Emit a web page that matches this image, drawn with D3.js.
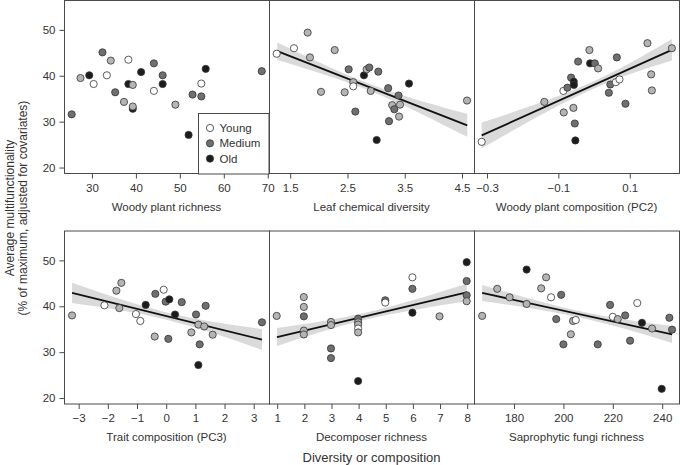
<!DOCTYPE html>
<html><head><meta charset="utf-8">
<script src="https://cdn.jsdelivr.net/npm/d3@7"></script>
<style>
body{margin:0;background:#fff;}
text{font-family:"Liberation Sans",Arial,sans-serif;fill:#333;}
</style></head>
<body><svg id="c" width="680" height="465"></svg>
<script>
// ---------- data ----------
// class codes: W = young (white), L = light grey, M = medium, O = old (black)
const legendLabels = ["Young", "Medium", "Old"];
const yTicks = [20, 30, 40, 50];

const woodyRichX = [25.5,27.5,29.5,30.5,32.5,33.5,34.4,35.4,37.4,38.4,38.4,39.4,39.4,39.4,41.3,44.2,44.2,46.2,46.2,49.1,52.1,53.0,55.0,55.0,56.0,68.75];
const woodyRichY = [31.6,39.5,40.1,38.2,45.1,40.1,43.3,36.4,34.3,43.5,38.2,38.0,32.8,33.3,40.8,42.7,36.7,40.1,38.2,33.7,27.1,35.9,38.3,35.5,41.5,41.0];
const woodyRichC = ["M","L","O","W","M","W","L","M","L","W","O","L","O","L","O","M","W","M","O","L","O","M","W","M","O","M"];

const leafChemX = [1.273,1.575,1.814,1.854,2.047,2.286,2.46,2.53,2.61,2.61,2.646,2.797,2.844,2.89,2.914,3.019,3.047,3.22,3.234,3.29,3.327,3.40,3.426,3.41,3.583,4.596];
const leafChemY = [44.8,46.0,49.4,44.0,36.5,45.6,36.4,41.4,38.6,37.7,32.2,40.1,41.4,41.8,36.7,26.0,40.9,37.3,30.1,33.6,32.7,35.7,33.7,31.1,38.3,34.6];
const leafChemC = ["W","W","L","L","L","L","L","M","L","W","M","O","L","M","L","O","M","M","M","L","M","M","L","L","O","L"];

const woodyCompX = [-0.3135,-0.138,-0.0846,-0.0835,-0.0733,-0.063,-0.0555,-0.055,-0.0565,-0.0526,-0.051,-0.0433,-0.0116,-0.0097,0.0035,0.0128,0.0428,0.047,0.0624,0.0726,0.0652,0.0894,0.151,0.1614,0.1634,0.2195];
const woodyCompY = [25.6,34.3,36.7,32.0,37.4,39.6,38.7,38.0,33.0,29.6,25.9,43.1,45.6,42.7,42.7,41.6,36.3,38.1,38.6,39.2,44.0,33.9,47.1,40.3,36.8,46.0];
const woodyCompC = ["W","L","W","L","M","M","O","O","L","M","O","M","L","O","M","L","M","M","W","W","M","M","L","L","L","L"];

const traitX = [-3.21,-2.10,-1.69,-1.52,-1.59,-1.02,-0.87,-0.686,-0.377,-0.356,-0.069,0.0,0.124,0.09,0.32,0.55,0.88,1.04,1.12,1.165,1.12,1.32,1.37,1.61,3.30];
const traitY = [38.0,40.2,43.4,45.1,39.6,38.3,36.8,40.3,33.4,42.7,43.6,41.0,41.5,32.9,38.2,40.9,34.3,38.2,36.0,31.7,27.2,35.6,40.1,33.8,36.5];
const traitC = ["L","W","L","L","L","W","W","O","L","M","W","M","O","M","O","M","L","M","L","M","O","L","M","L","M"];

const decompX = [1,2,2,2,2,2,3,3,3,3,4,4,4,4,4,4,5,5,6,6,6,7,8,8,8,8];
const decompY = [37.9,42.0,39.85,37.8,34.7,33.85,36.6,35.9,30.8,28.7,37.3,36.5,36.0,35.15,34.3,23.7,41.3,40.8,46.3,43.8,38.6,37.8,49.6,45.5,42.4,41.1];
const decompC = ["L","L","L","M","L","L","L","L","M","M","M","L","L","W","L","O","M","W","W","M","O","L","O","M","M","L"];

const fungiX = [167.3,173.4,178.4,185.3,185.3,191.2,193.2,195.2,197.3,199.3,200.2,203.2,204.1,205.2,214.1,219.1,220.2,222.2,225.2,227.2,230.1,232.0,236.1,240.0,243.1,244.2];
const fungiY = [37.9,43.8,41.95,40.5,48.0,43.9,46.3,41.95,37.2,42.5,31.7,33.9,36.8,37.0,31.7,40.3,37.7,37.2,38.0,32.5,40.7,36.4,35.15,22.0,37.5,34.9];
const fungiC = ["L","L","L","L","O","L","L","W","M","M","M","L","L","W","M","M","W","L","M","M","W","O","L","O","M","M"];

// fitted lines (endpoints) and confidence band half-widths at left / middle / right
const leafLineX = [1.283, 4.60], leafLineY = [45.35, 29.2], leafBandX = [1.283, 2.95, 4.60], leafBandHalf = [1.9, 0.75, 2.5];
const compLineX = [-0.3135, 0.2195], compLineY = [27.0, 45.65], compBandX = [-0.3135, -0.02, 0.2195], compBandHalf = [2.8, 0.8, 2.35];
const traitLineX = [-3.21, 3.30], traitLineY = [42.9, 32.75], traitBandX = [-3.21, 0.0, 3.30], traitBandHalf = [2.2, 0.8, 2.25];
const decLineX = [1.01, 8.0], decLineY = [33.3, 43.0], decBandX = [1.01, 4.3, 8.0], decBandHalf = [1.95, 0.75, 1.9];
const fungiLineX = [167.3, 244.2], fungiLineY = [42.9, 33.85], fungiBandX = [167.3, 207, 244.2], fungiBandHalf = [1.75, 0.7, 1.85];

const panels = [
  {row:0, col:0, title:"Woody plant richness", dom:[23.75,70.4], ticks:[30,40,50,60,70], fmt:"d", X:woodyRichX, Y:woodyRichY, C:woodyRichC, legend:true},
  {row:0, col:1, title:"Leaf chemical diversity", dom:[1.139,4.718], ticks:[1.5,2.5,3.5,4.5], fmt:".1f", X:leafChemX, Y:leafChemY, C:leafChemC, lx:leafLineX, ly:leafLineY, bx:leafBandX, bh:leafBandHalf},
  {row:0, col:2, title:"Woody plant composition (PC2)", dom:[-0.335,0.2394], ticks:[-0.3,-0.1,0.1], fmt:".1f", X:woodyCompX, Y:woodyCompY, C:woodyCompC, lx:compLineX, ly:compLineY, bx:compBandX, bh:compBandHalf},
  {row:1, col:0, title:"Trait composition (PC3)", dom:[-3.486,3.541], ticks:[-3,-2,-1,0,1,2,3], fmt:"d", X:traitX, Y:traitY, C:traitC, lx:traitLineX, ly:traitLineY, bx:traitBandX, bh:traitBandHalf},
  {row:1, col:1, title:"Decomposer richness", dom:[0.716,8.27], ticks:[1,2,3,4,5,6,7,8], fmt:"d", X:decompX, Y:decompY, C:decompC, lx:decLineX, ly:decLineY, bx:decBandX, bh:decBandHalf},
  {row:1, col:2, title:"Saprophytic fungi richness", dom:[164.0,247.0], ticks:[180,200,220,240], fmt:"d", X:fungiX, Y:fungiY, C:fungiC, lx:fungiLineX, ly:fungiLineY, bx:fungiBandX, bh:fungiBandHalf}
];

// ---------- drawing ----------
const fill = {W:"#ffffff", L:"#b4b4b4", M:"#6f6f6f", O:"#1c1c1c"};
const legendCodes = ["W","M","O"];
const svg = d3.select("#c");
const colX = [64, 269, 474], rowY = [0.5, 231], pw = 205, ph = 173;
const frame = "#4a4a4a";

const y = d3.scaleLinear().domain([18.7, 56.4]).range([ph, 0]);

panels.forEach(p => {
  const g = svg.append("g").attr("transform", `translate(${colX[p.col]},${rowY[p.row]})`);
  const x = d3.scaleLinear().domain(p.dom).range([0, pw]);

  // band + line
  if (p.lx) {
    const slope = (p.ly[1]-p.ly[0])/(p.lx[1]-p.lx[0]);
    const fit = v => p.ly[0] + slope*(v - p.lx[0]);
    const band = p.bx.map((v,i) => ({x:v, lo:fit(v)-p.bh[i], hi:fit(v)+p.bh[i]}));
    g.append("path").datum(band)
      .attr("d", d3.area().x(d=>x(d.x)).y0(d=>y(d.lo)).y1(d=>y(d.hi)).curve(d3.curveNatural))
      .attr("fill", "#dadada");
    g.append("line")
      .attr("x1", x(p.lx[0])).attr("y1", y(p.ly[0]))
      .attr("x2", x(p.lx[1])).attr("y2", y(p.ly[1]))
      .attr("stroke", "#111").attr("stroke-width", 1.8);
  }

  // points
  g.selectAll("circle.pt").data(p.X.map((v,i)=>({x:v, y:p.Y[i], c:p.C[i]})))
    .join("circle").attr("class","pt")
    .attr("cx", d=>x(d.x)).attr("cy", d=>y(d.y)).attr("r", 3.6)
    .attr("fill", d=>fill[d.c]).attr("stroke", "#333").attr("stroke-width", 0.8);

  // frame
  g.append("rect").attr("x", 0.5).attr("y", 0).attr("width", pw).attr("height", ph)
    .attr("fill", "none").attr("stroke", frame).attr("stroke-width", 1);

  // x axis
  const xa = g.append("g").attr("transform", `translate(0.5,${ph})`)
    .call(d3.axisBottom(x).tickValues(p.ticks).tickFormat(d3.format(p.fmt)).tickSize(5).tickPadding(5));
  xa.select(".domain").remove();
  xa.selectAll("line").attr("stroke", frame);
  xa.selectAll("text").style("font-size", "11.5px").attr("fill", "#333");

  g.append("text").attr("x", pw/2).attr("y", ph + 37).attr("text-anchor", "middle")
    .style("font-size", "11.5px").text(p.title);

  if (p.col === 0) {
    const ya = g.append("g").attr("transform", "translate(0.5,0)")
      .call(d3.axisLeft(y).tickValues(yTicks).tickSize(5).tickPadding(4));
    ya.select(".domain").remove();
    ya.selectAll("line").attr("stroke", frame);
    ya.selectAll("text").style("font-size", "11.5px").attr("fill", "#333");
  }

  if (p.legend) {
    const lg = g.append("g").attr("transform", `translate(${198.5-colX[0]},${113})`);
    lg.append("rect").attr("x", 0).attr("y", 0).attr("width", 70.5).attr("height", ph-113+0.5)
      .attr("fill", "#fff").attr("stroke", frame);
    legendLabels.forEach((t,i) => {
      lg.append("circle").attr("cx", 11.5).attr("cy", 14.5 + i*15.3).attr("r", 3.6)
        .attr("fill", fill[legendCodes[i]]).attr("stroke", "#333").attr("stroke-width", 0.8);
      lg.append("text").attr("x", 21).attr("y", 14.5 + i*15.3).attr("dy", "0.35em")
        .style("font-size", "11.5px").text(t);
    });
  }
});

// shared titles
svg.append("text").attr("x", 371.5).attr("y", 462).attr("text-anchor", "middle")
  .style("font-size", "13px").text("Diversity or composition");
const yt = svg.append("text").attr("transform", "translate(0,208) rotate(-90)").attr("text-anchor", "middle")
  .style("font-size", "12px");
yt.append("tspan").attr("x", 0).attr("y", 14).text("Average multifunctionality");
yt.append("tspan").attr("x", 0).attr("y", 26.5).text("(% of maximum, adjusted for covariates)");
</script></body></html>
